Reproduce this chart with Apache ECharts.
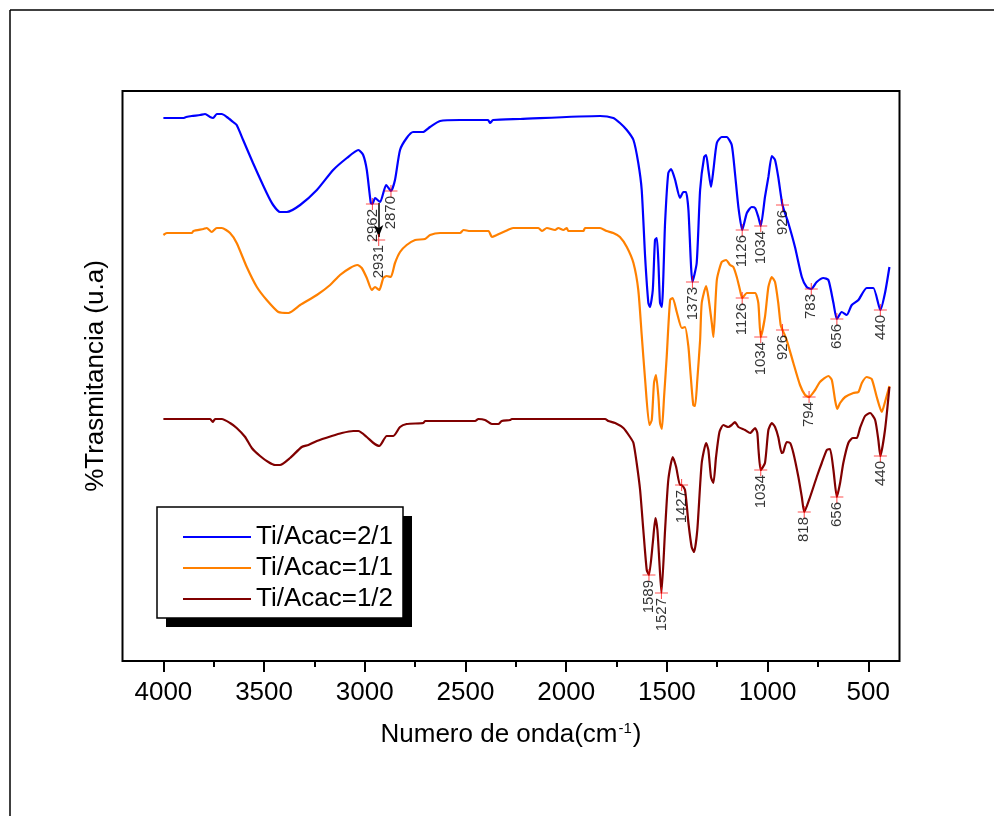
<!DOCTYPE html>
<html>
<head>
<meta charset="utf-8">
<script src="https://cdn.jsdelivr.net/npm/echarts@6/dist/echarts.min.js"></script>
<style>
html,body{margin:0;padding:0;background:#fff;}
#chart{width:994px;height:816px;}
</style>
</head>
<body>
<div id="chart"></div>
<script>
// Series names
const seriesNames = ['Ti/Acac=2/1', 'Ti/Acac=1/1', 'Ti/Acac=1/2'];
// Tick values (wavenumber, cm-1)
const majorTicks = [500, 1000, 1500, 2000, 2500, 3000, 3500, 4000];
const minorTicks = [750, 1250, 1750, 2250, 2750, 3250, 3750];

// Spectra: [wavenumber, transmittance (arbitrary units, offset)]
const spectrum21 = [
[4000,543],[3902,543],[3887,544],[3859,545],[3818,546],[3793,547],[3768,544],[3753,543],[3735,547],[3710,547],[3685,544],[3654,539],[3636,536],[3604,521],[3555,498],[3487,468],[3455,456],[3421,449],[3387,449],[3321,456],[3238,471],[3157,491],[3089,503],[3032,511],[3008,506],[2990,491],[2970,458],[2962,457],[2949,463],[2924,459],[2894,476],[2870,470],[2850,481],[2825,511],[2792,523],[2760,529],[2711,529],[2676,534],[2626,540],[2527,541],[2388,541],[2378,538],[2363,541],[2229,542],[1832,545],[1766,543],[1733,538],[1699,531],[1666,521],[1642,498],[1625,471],[1608,404],[1592,358],[1584,354],[1570,371],[1559,421],[1550,423],[1542,398],[1534,358],[1525,354],[1509,438],[1493,488],[1479,492],[1459,481],[1435,463],[1418,469],[1405,469],[1393,451],[1373,379],[1352,398],[1335,471],[1315,504],[1305,506],[1294,491],[1281,474],[1269,491],[1252,518],[1228,524],[1203,524],[1178,516],[1162,488],[1145,454],[1126,431],[1103,448],[1079,454],[1062,453],[1046,444],[1034,435],[1013,464],[996,484],[979,505],[963,501],[947,484],[926,456],[897,438],[864,414],[830,384],[806,374],[783,372],[756,379],[723,383],[698,381],[673,358],[656,342],[632,349],[607,346],[582,356],[549,361],[508,373],[475,373],[440,351],[417,368],[395,394]
];
const spectrum11 = [
[4000,426],[3983,428],[3859,428],[3851,430],[3801,432],[3785,433],[3760,429],[3735,433],[3710,433],[3669,428],[3636,418],[3586,394],[3536,374],[3487,361],[3429,349],[3379,348],[3321,356],[3238,366],[3172,376],[3123,386],[3073,393],[3037,396],[3015,393],[2990,383],[2965,371],[2949,374],[2928,371],[2908,383],[2891,385],[2871,384],[2850,398],[2825,409],[2792,416],[2750,421],[2701,422],[2676,426],[2626,428],[2527,428],[2510,431],[2477,430],[2386,430],[2369,424],[2345,426],[2312,429],[2279,432],[2262,433],[2138,433],[2121,430],[2096,433],[2055,431],[2039,433],[2014,431],[1997,433],[1989,430],[1915,430],[1906,433],[1832,433],[1799,430],[1766,428],[1733,424],[1699,414],[1666,398],[1642,371],[1625,326],[1608,281],[1587,236],[1575,241],[1564,278],[1554,286],[1542,264],[1534,238],[1525,232],[1514,264],[1501,304],[1484,361],[1471,363],[1451,349],[1426,333],[1410,334],[1393,314],[1384,291],[1369,256],[1360,255],[1349,281],[1335,321],[1327,358],[1305,375],[1294,364],[1277,338],[1269,324],[1252,381],[1228,399],[1206,401],[1186,396],[1170,394],[1153,384],[1137,371],[1126,363],[1103,368],[1062,368],[1046,358],[1034,324],[1013,344],[996,374],[979,384],[963,379],[947,358],[935,336],[926,331],[915,326],[905,321],[872,298],[839,276],[814,266],[794,264],[764,271],[740,279],[698,285],[681,281],[665,261],[654,252],[640,258],[615,264],[574,268],[549,269],[532,278],[508,284],[483,282],[458,264],[433,249],[417,259],[395,275]
];
const spectrum12 = [
[4000,242],[3768,242],[3755,239],[3743,242],[3710,242],[3669,238],[3636,233],[3594,224],[3561,213],[3520,205],[3479,199],[3445,196],[3421,196],[3371,203],[3313,214],[3280,216],[3238,220],[3164,225],[3114,228],[3057,230],[3032,230],[2990,224],[2957,218],[2928,215],[2891,225],[2858,225],[2825,234],[2792,237],[2709,238],[2701,240],[2452,240],[2436,242],[2403,241],[2369,237],[2337,237],[2320,240],[2279,241],[2270,242],[1807,242],[1791,240],[1757,238],[1716,233],[1683,224],[1666,218],[1650,198],[1633,171],[1617,131],[1600,91],[1589,86],[1570,118],[1557,143],[1547,131],[1537,98],[1527,68],[1509,131],[1493,181],[1471,204],[1454,194],[1435,176],[1427,176],[1410,171],[1393,138],[1377,114],[1365,109],[1349,131],[1327,198],[1305,218],[1294,211],[1281,184],[1269,178],[1256,204],[1239,229],[1220,236],[1195,234],[1178,236],[1162,239],[1145,234],[1112,231],[1087,228],[1062,233],[1051,228],[1045,211],[1034,191],[1013,198],[996,231],[979,238],[963,234],[947,224],[930,208],[922,209],[905,219],[888,218],[872,208],[847,184],[830,164],[818,149],[789,164],[756,184],[731,198],[706,211],[690,212],[673,191],[656,164],[640,178],[624,198],[599,218],[577,223],[557,223],[541,233],[516,245],[491,248],[466,241],[450,221],[440,205],[417,231],[395,274]
];

// Labelled peaks: [wavenumber, transmittance]
const peaks21 = [[2962,457],[2870,470],[1373,379],[1126,431],[1034,435],[926,456],[783,372],[656,342],[440,351]];
const peaks11 = [[2931,421],[1126,363],[1034,324],[926,331],[794,264]];
const peaks12 = [[1589,86],[1527,68],[1427,176],[1034,191],[818,149],[656,164],[440,205]];
// Arrow from the 2/1 spectrum down to the 2931 label
const arrow2931 = [[2931,458],[2931,424]];

const colors = ['#0000FF', '#FF8000', '#800000'];
const FONT = '"Liberation Sans", Arial, sans-serif';

const chart = echarts.init(document.getElementById('chart'), null, {renderer: 'canvas'});

const plusSymbol = 'path://M0,5.5h12v1h-12z M5.5,0h1v12h-1z';

function peakSeries(data, name, extra) {
  const s = {
    type: 'scatter',
    name: name,
    data: data.map(p => ({value: p, name: String(p[0])})),
    symbol: plusSymbol,
    symbolSize: [13, 12],
    itemStyle: {color: 'rgba(255,0,0,0.85)'},
    z: 5,
    silent: true,
    label: {
      show: true,
      formatter: p => p.name,
      position: 'bottom',
      distance: -1,
      rotate: 90,
      align: 'right',
      verticalAlign: 'middle',
      fontSize: 15,
      fontFamily: FONT,
      color: '#000'
    }
  };
  return Object.assign(s, extra || {});
}

function lineSeries(data, name, color) {
  return {
    type: 'line',
    name: name,
    data: data,
    showSymbol: false,
    smooth: 0.2,
    lineStyle: {color: color, width: 2.2},
    itemStyle: {color: color},
    z: 3
  };
}

const option = {
  animation: false,
  backgroundColor: '#fff',
  grid: {
    left: 122.5, right: 94.5, top: 91, bottom: 155,
    show: true, borderColor: '#000', borderWidth: 2, backgroundColor: 'transparent'
  },
  xAxis: [{
    type: 'value',
    position: 'bottom',
    inverse: true,
    min: 345, max: 4203,
    axisLine: {show: false},
    splitLine: {show: false},
    axisTick: {show: true, customValues: majorTicks, length: 11, lineStyle: {color: '#000', width: 2}},
    axisLabel: {show: true, customValues: majorTicks, formatter: v => String(v), fontSize: 26, fontFamily: FONT, color: '#000', margin: 19},
    name: '{a|Numero de onda(cm}{s|-1}{a|)}',
    nameLocation: 'middle',
    nameGap: 60,
    nameTextStyle: {
      fontFamily: FONT, color: '#000', fontSize: 26,
      rich: {
        a: {fontSize: 26, fontFamily: FONT, color: '#000', lineHeight: 28},
        s: {fontSize: 15, fontFamily: FONT, color: '#000', verticalAlign: 'top', lineHeight: 28, padding: [0, 1, 10, 1]}
      }
    }
  }, {
    type: 'value',
    position: 'bottom',
    inverse: true,
    min: 345, max: 4203,
    axisLine: {show: false},
    splitLine: {show: false},
    axisTick: {show: true, customValues: minorTicks, length: 6, lineStyle: {color: '#000', width: 2}},
    axisLabel: {show: false}
  }],
  yAxis: {
    type: 'value',
    min: 0, max: 570,
    axisLine: {show: false},
    axisTick: {show: false},
    axisLabel: {show: false},
    splitLine: {show: false},
    name: '%Trasmitancia (u.a)',
    nameLocation: 'middle',
    nameGap: 14,
    nameTextStyle: {fontFamily: FONT, color: '#000', fontSize: 26}
  },
  legend: {
    data: seriesNames,
    left: 157, top: 507,
    orient: 'vertical',
    padding: [15, 8, 6, 26],
    itemGap: 1,
    itemWidth: 68, itemHeight: 2,
    icon: 'rect',
    z: 10,
    textStyle: {fontSize: 26, lineHeight: 30, color: '#000', fontFamily: FONT}
  },
  graphic: [
    {type: 'line', shape: {x1: 10, y1: 10, x2: 10, y2: 816}, style: {stroke: '#000', lineWidth: 1.5}, silent: true},
    {type: 'line', shape: {x1: 10, y1: 10, x2: 994, y2: 10}, style: {stroke: '#000', lineWidth: 1.5}, silent: true},
    {type: 'rect', shape: {x: 166, y: 516, width: 246, height: 111}, style: {fill: '#000'}, silent: true, z: 1},
    {type: 'rect', shape: {x: 157, y: 507, width: 246, height: 111}, style: {fill: '#fff', stroke: '#000', lineWidth: 1.5}, silent: true, z: 2}
  ],
  series: [
    lineSeries(spectrum21, seriesNames[0], colors[0]),
    lineSeries(spectrum11, seriesNames[1], colors[1]),
    lineSeries(spectrum12, seriesNames[2], colors[2]),
    peakSeries(peaks21, 'peaks21'),
    peakSeries(peaks11, 'peaks11', {
      markLine: {
        silent: true,
        symbol: ['none', 'arrow'],
        symbolSize: [7, 12],
        label: {show: false},
        lineStyle: {color: '#000', width: 1.5, type: 'solid'},
        data: [[{coord: arrow2931[0]}, {coord: arrow2931[1]}]]
      }
    }),
    peakSeries(peaks12, 'peaks12')
  ]
};

chart.setOption(option);
</script>
</body>
</html>
